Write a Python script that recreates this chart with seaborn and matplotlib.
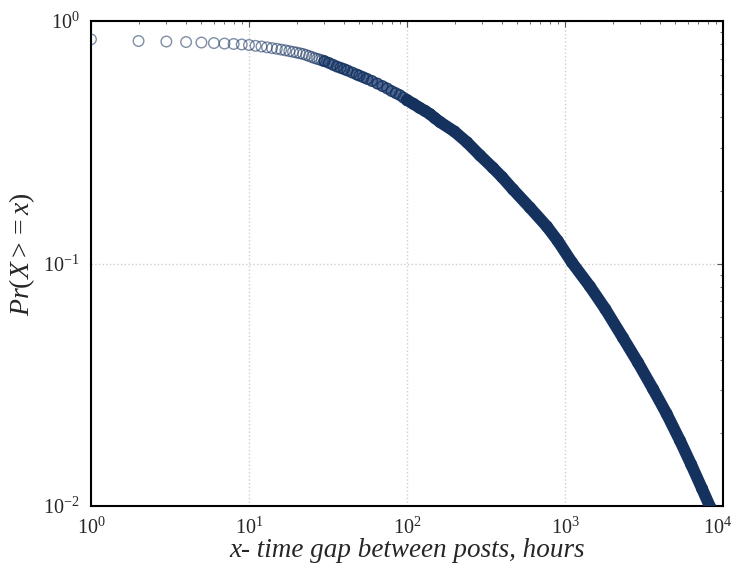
import matplotlib
matplotlib.use("Agg")
import matplotlib.pyplot as plt
import matplotlib.transforms as mtransforms
import seaborn as sns
import pandas as pd

# ---- data (time gap in hours, CCDF Pr(X >= x)) ----
gap_sparse = list(range(1, 31))
ccdf_sparse = [0.840, 0.827, 0.823, 0.819, 0.815, 0.811, 0.807, 0.804, 0.800, 0.796,
               0.790, 0.785, 0.779, 0.773, 0.768, 0.762, 0.757, 0.751, 0.746, 0.741,
               0.736, 0.731, 0.724, 0.717, 0.710, 0.703, 0.698, 0.693, 0.688, 0.683]

gap_mid = [30, 32, 34, 36, 38, 40, 42, 45, 48, 50, 53, 56, 60, 65, 70, 75, 80, 85, 90, 95, 100]
ccdf_mid = [0.683, 0.672, 0.660, 0.649, 0.641, 0.633, 0.625, 0.613, 0.602, 0.595, 0.586,
            0.577, 0.566, 0.552, 0.539, 0.527, 0.514, 0.504, 0.495, 0.483, 0.472]

gap_dense = [100, 110, 120, 130, 140, 150, 162, 200, 240, 290, 350, 400, 469, 600, 769,
             900, 1107, 1439, 1800, 2328, 2900, 3606, 4400, 5345, 6300, 7365, 8300, 9000]
ccdf_dense = [0.472, 0.455, 0.439, 0.426, 0.413, 0.398, 0.383, 0.350, 0.316, 0.279,
              0.248, 0.227, 0.202, 0.170, 0.142, 0.124, 0.101, 0.0804, 0.0649, 0.0494,
              0.0390, 0.0304, 0.0240, 0.0186, 0.0148, 0.0118, 0.0099, 0.0085]

x_ticks = [1, 10, 100, 1000, 10000]
y_ticks = [0.01, 0.1, 1]

NAVY = "#15325f"

sns.set_style("white")
plt.rcParams["font.family"] = ["Liberation Serif", "DejaVu Serif"]
plt.rcParams["mathtext.fontset"] = "custom"
plt.rcParams["mathtext.rm"] = "Liberation Serif"
plt.rcParams["mathtext.it"] = "Liberation Serif:italic"
plt.rcParams["mathtext.default"] = "regular"

fig = plt.figure(figsize=(7.36, 5.69), dpi=100)
ax = fig.add_axes([0.1236, 0.1107, 0.8587, 0.8524])
ax.set_xscale("log")
ax.set_yscale("log")

df_sparse = pd.DataFrame({"gap": gap_sparse, "ccdf": ccdf_sparse})
df_mid = pd.DataFrame({"gap": gap_mid, "ccdf": ccdf_mid})
df_dense = pd.DataFrame({"gap": gap_dense, "ccdf": ccdf_dense})

# overlapping circles in the dense part merge into a solid band
sns.lineplot(data=df_dense, x="gap", y="ccdf", ax=ax, color=NAVY, linewidth=8.5,
             solid_capstyle="round", estimator=None, sort=False, zorder=3)
sns.lineplot(data=df_mid, x="gap", y="ccdf", ax=ax, color="#4f6892", linewidth=7.5,
             solid_capstyle="round", estimator=None, sort=False, zorder=2)

for d, a in [(df_sparse, 0.55), (df_mid, 0.85), (df_dense, 1.0)]:
    ax.scatter(d["gap"], d["ccdf"], marker="o", s=58,
               facecolors="none", edgecolors=[matplotlib.colors.to_rgba(NAVY, a)],
               linewidths=1.0, zorder=4)

ax.set_xlim(1, 1e4)
ax.set_ylim(1e-2, 1)
ax.set_xticks(x_ticks)
ax.set_yticks(y_ticks)

ax.grid(True, which="major", color="#cfcfcf", linestyle=":", linewidth=1.0)
ax.set_axisbelow(True)
for s in ax.spines.values():
    s.set_color("black")
    s.set_linewidth(1.5)
    s.set_visible(True)

ax.tick_params(which="both", direction="in", top=True, right=True, color="#555555")
ax.tick_params(which="major", length=4, width=0.8, labelsize=14.5, pad=8)
ax.tick_params(which="minor", length=2, width=0.6)

ax.set_xlabel("x- time gap between posts, hours", fontsize=19.5, style="italic", labelpad=0)
ax.set_ylabel(r"$\mathit{Pr(X>=x)}$", fontsize=20, labelpad=4)
ax.yaxis.set_label_coords(-0.085, 0.52)

# keep the last x tick label inside the canvas
fig.canvas.draw()
last = ax.get_xticklabels()[-1]
last.set_transform(last.get_transform() + mtransforms.ScaledTranslation(-5 / 100, 0, fig.dpi_scale_trans))

fig.savefig("out.png", dpi=100)
